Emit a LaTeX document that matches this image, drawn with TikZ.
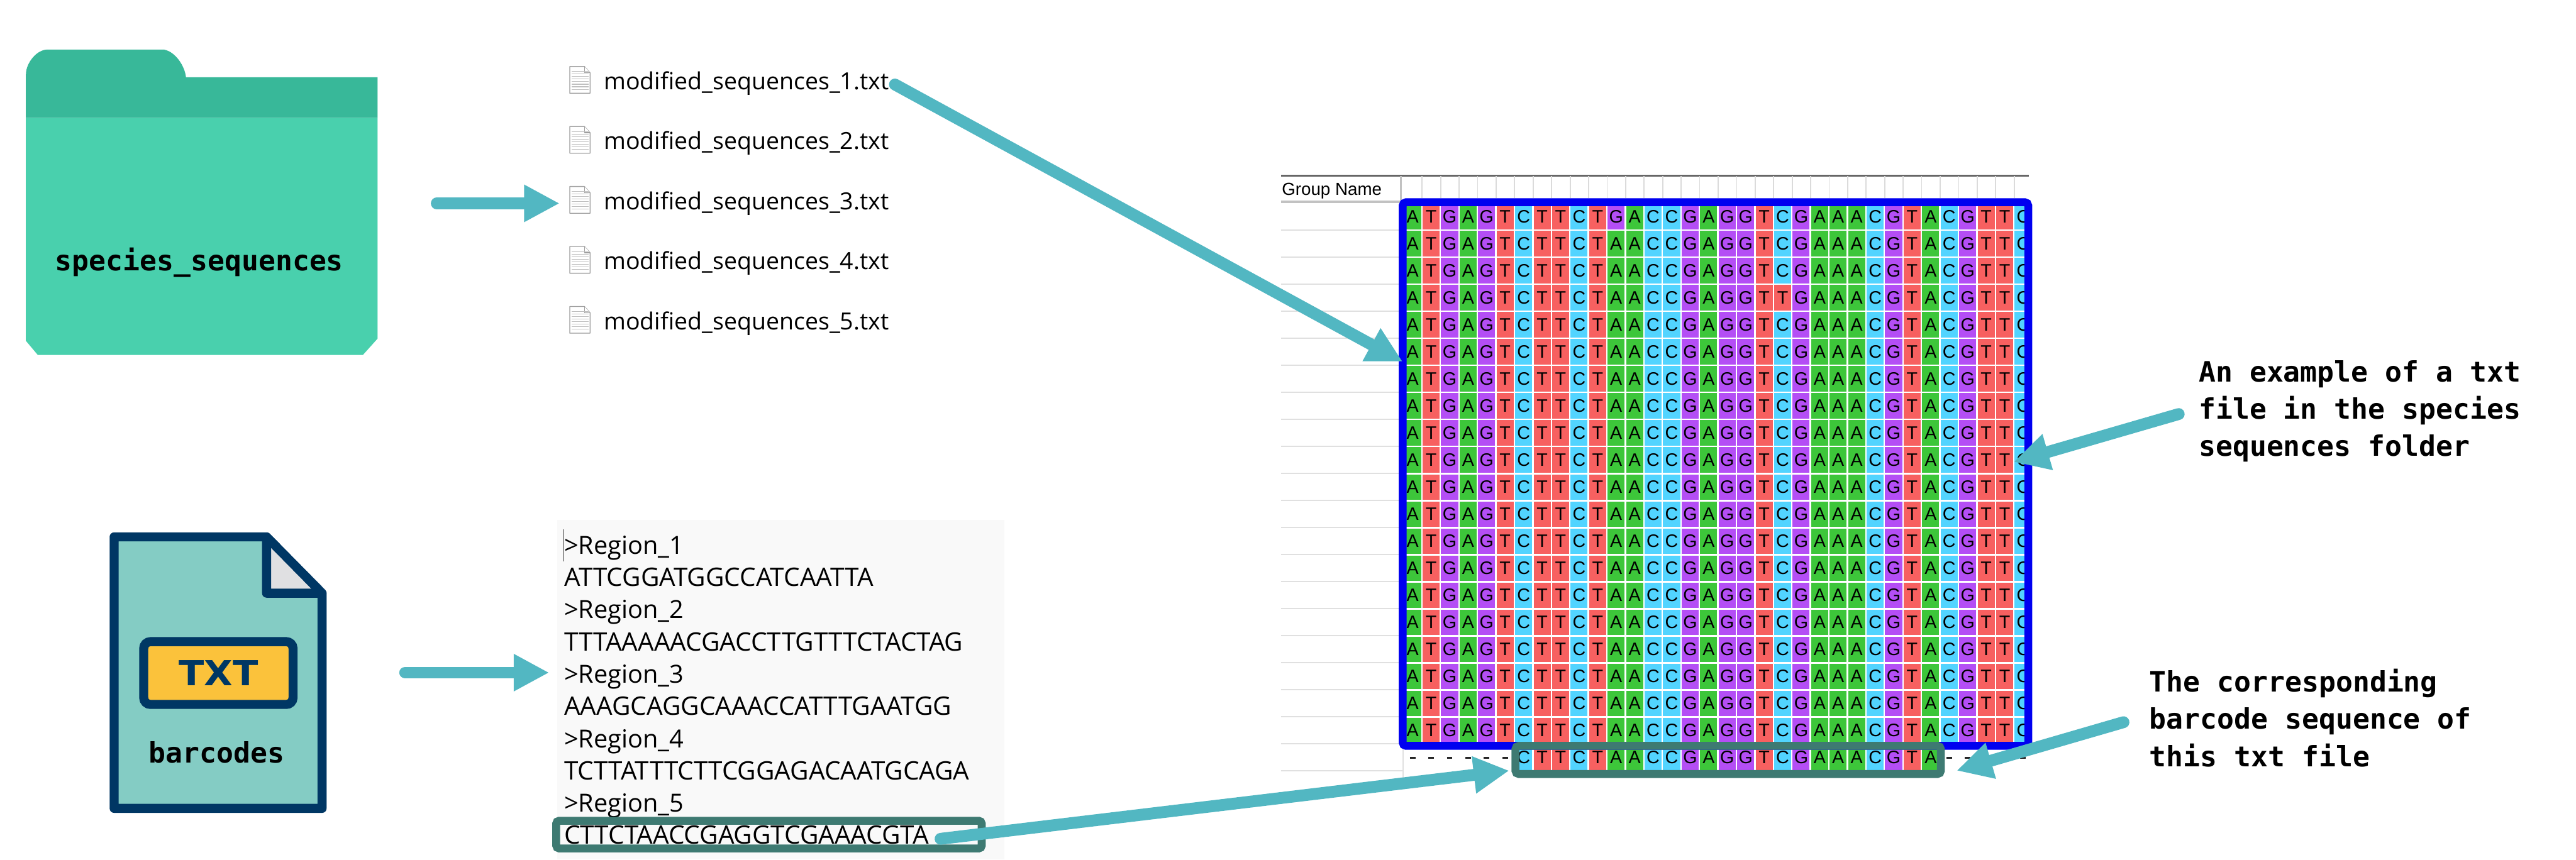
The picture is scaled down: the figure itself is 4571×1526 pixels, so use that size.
\documentclass[tikz,border=0pt]{standalone}
\usepackage{fontspec}
\usetikzlibrary{arrows.meta}
\setmainfont{Open Sans}
\setmonofont{DejaVu Sans Mono}
\newfontfamily\cellfont{Liberation Sans}
\newfontfamily\iconfont[FakeStretch=1.08]{DejaVu Sans}
\definecolor{arrowc}{HTML}{52B7C2}
\definecolor{folderdark}{HTML}{38B899}
\definecolor{folderlight}{HTML}{49D0AD}
\definecolor{navy}{HTML}{003764}
\definecolor{paperfill}{HTML}{84CCC4}
\definecolor{foldfill}{HTML}{E0E0E2}
\definecolor{yellowbox}{HTML}{FBC23B}
\definecolor{panelbg}{HTML}{F9F9F9}
\definecolor{framegreen}{HTML}{3E7A72}
\definecolor{frameblue}{HTML}{0000F0}
\definecolor{baseA}{HTML}{3DC63A}
\definecolor{baseT}{HTML}{F76060}
\definecolor{baseG}{HTML}{B44EF5}
\definecolor{baseC}{HTML}{52D4FF}
\tikzset{
  flow/.style={draw=arrowc,line width=0.21cm,line cap=round,-{Triangle[length=0.63cm,width=0.62cm]}},
  basecell/.style={inner sep=0pt,outer sep=0pt,minimum width=0.302cm,minimum height=0.45cm,font=\cellfont\fontsize{9.1pt}{9.1pt}\selectfont,text=black},
  A/.style={fill=baseA},T/.style={fill=baseT},G/.style={fill=baseG},C/.style={fill=baseC},
  filename/.style={anchor=base west,inner sep=0pt,font=\fontsize{11.9pt}{14pt}\selectfont,text=black},
  panelline/.style={anchor=base west,inner sep=0pt,font=\fontsize{12.6pt}{15pt}\selectfont,text=black},
  panelseq/.style={panelline,font=\fontsize{12.85pt}{15pt}\selectfont},
  monolabel/.style={inner sep=0pt,font=\ttfamily\bfseries\fontsize{14.2pt}{18.8pt}\selectfont,text=black},
  note/.style={monolabel,anchor=north west,align=left},
  rule/.style={draw=black!12,line width=0.02cm},
  tick/.style={draw=black!14,line width=0.02cm},
  pagefile/.style={draw=black!38,line width=0.015cm,fill=white,line join=round},
  pageline/.style={draw=black!25,line width=0.012cm},
  gapdash/.style={draw=black!85,line width=0.03cm},
}
\newcommand\seqrow[3]{\foreach \bb [count=\cc from #3] in #2 {%
  \node[basecell,\bb] (cell-#1-\cc) at ({2506.6+32.83*\cc},{384.5+48*#1}) {\bb};}}
\newcommand\txticon[1]{%
  \begin{scope}[shift={(1011,#1)}]
    \path[pagefile] (0,0) -- (26,0) -- (36,11) -- (36,47.5) -- (0,47.5) -- cycle;
    \path[pagefile] (26,0) -- (26,11) -- (36,11);
    \foreach \yy in {9,13.5,18,22.5,27,31.5,36,40.5} \draw[pageline] (3,\yy) -- (33,\yy);
  \end{scope}}
\begin{document}
\begin{tikzpicture}[x=0.01cm,y=-0.01cm]
\useasboundingbox (0,0) rectangle (4571,1526);
\fill[white] (0,0) rectangle (4571,1526);

% folder
\fill[folderlight] (46,209) -- (670,209) -- (670,601) -- (644,630) -- (67,630) -- (46,605) -- cycle;
\fill[folderdark] (46,209) -- (46,132) .. controls (46,112) and (65,88) .. (84,88) -- (291,88)
  .. controls (312,92) and (328,118) .. (330,137) -- (670,137) -- (670,209) -- cycle;
\node[monolabel,anchor=base] (folderlabel) at (353.7,480.5) {species\_sequences};

% file list
\txticon{118}\txticon{224.5}\txticon{331}\txticon{437.5}\txticon{544}
\node[filename] (file1) at (1071,159.3) {modified\_sequences\_1.txt};
\node[filename] (file2) at (1071,265.5) {modified\_sequences\_2.txt};
\node[filename] (file3) at (1071,372) {modified\_sequences\_3.txt};
\node[filename] (file4) at (1071,478.5) {modified\_sequences\_4.txt};
\node[filename] (file5) at (1071,585) {modified\_sequences\_5.txt};

% txt file icon
\path[fill=paperfill,draw=navy,line width=0.16cm,line join=round]
  (202.5,953) -- (473,953) -- (571.5,1053) -- (571.5,1435) -- (202.5,1435) -- cycle;
\path[fill=foldfill,draw=navy,line width=0.16cm,line join=round]
  (473,953) -- (571.5,1053) -- (473,1053) -- cycle;
\path[fill=yellowbox,draw=navy,line width=0.16cm,rounded corners=0.12cm] (255,1139) rectangle (520,1250.5);
\node[inner sep=0pt,font=\iconfont\bfseries\fontsize{17.4pt}{17.4pt}\selectfont,text=navy,anchor=base] (txtlabel) at (388,1217) {TXT};
\node[monolabel,anchor=base] (barcodelabel) at (384.5,1354.6) {barcodes};

% region panel
\fill[panelbg] (988.5,923) rectangle (1782,1526);
\draw[black!80,line width=0.012cm] (1000.5,940) -- (1000.5,996);
\node[panelline] (r1) at (1000.5,984) {>Region\_1};
\node[panelseq] (s1) at (1000.5,1041) {ATTCGGATGGCCATCAATTA};
\node[panelline] (r2) at (1000.5,1098) {>Region\_2};
\node[panelseq] (s2) at (1000.5,1155.5) {TTTAAAAACGACCTTGTTTCTACTAG};
\node[panelline] (r3) at (1000.5,1212.5) {>Region\_3};
\node[panelseq] (s3) at (1000.5,1269.5) {AAAGCAGGCAAACCATTTGAATGG};
\node[panelline] (r4) at (1000.5,1327) {>Region\_4};
\node[panelseq] (s4) at (1000.5,1384) {TCTTATTTCTTCGGAGACAATGCAGA};
\node[panelline] (r5) at (1000.5,1441) {>Region\_5};
\node[panelseq] (s5) at (1000.5,1497.6) {CTTCTAACCGAGGTCGAAACGTA};
\draw[framegreen,line width=0.14cm,rounded corners=0.05cm] (987,1457) rectangle (1742,1506);

% alignment header and row rules
\draw[black!60,line width=0.025cm] (2273,312) -- (3600,312);
\node[inner sep=0pt,anchor=base west,font=\cellfont\fontsize{8.8pt}{9pt}\selectfont] (groupname) at (2274,346) {Group Name};
\foreach \k in {0,...,32} \draw[tick] ({2523.5+32.83*\k},313) -- ({2523.5+32.83*\k},352);
\draw[black!24,line width=0.04cm] (2486,313) -- (2486,355);
\draw[black!24,line width=0.05cm] (2273,358) -- (2484,358);
\foreach \k in {0,...,20} \draw[rule] (2273,{408+48*\k}) -- (2490,{408+48*\k});
\draw[rule] (2490,360) -- (2490,1390);

% gap dashes in barcode row
\foreach \k in {0,...,5,29,30,31,32,33}
  \draw[gapdash] ({2501.6+32.83*\k},1345) -- ({2511.6+32.83*\k},1345);

% alignment cells
\def\seqA{A,T,G,A,G,T,C,T,T,C,T,A,A,C,C,G,A,G,G,T,C,G,A,A,A,C,G,T,A,C,G,T,T,C}
\def\seqFirst{A,T,G,A,G,T,C,T,T,C,T,G,A,C,C,G,A,G,G,T,C,G,A,A,A,C,G,T,A,C,G,T,T,C}
\def\seqMut{A,T,G,A,G,T,C,T,T,C,T,A,A,C,C,G,A,G,G,T,T,G,A,A,A,C,G,T,A,C,G,T,T,C}
\def\seqBar{C,T,T,C,T,A,A,C,C,G,A,G,G,T,C,G,A,A,A,C,G,T,A}
\seqrow{0}{\seqFirst}{0}
\seqrow{1}{\seqA}{0}
\seqrow{2}{\seqA}{0}
\seqrow{3}{\seqMut}{0}
\foreach \rr in {4,...,19} {\seqrow{\rr}{\seqA}{0}}
\seqrow{20}{\seqBar}{6}

% frames
\draw[frameblue,line width=0.14cm,rounded corners=0.06cm] (2489,359) rectangle (3599,1324);
\draw[framegreen,line width=0.14cm,rounded corners=0.06cm] (2689,1324) rectangle (3444,1374);

% notes
\node[note] (note1) at (3901,639) {An example of a txt\\file in the species\\sequences folder};
\node[note] (note2) at (3813.5,1187) {The corresponding\\barcode sequence of\\this txt file};

% connectors
\coordinate (a1s) at (775,361);   \coordinate (a1e) at (993,361);
\coordinate (a2s) at (719,1194);  \coordinate (a2e) at (974.5,1194);
\coordinate (a3s) at (1588,150);  \coordinate (a3e) at (2489,642);
\coordinate (a4s) at (1669,1489); \coordinate (a4e) at (2678,1368);
\coordinate (a5s) at (3866,735);  \coordinate (a5e) at (3573,820);
\coordinate (a6s) at (3768,1282); \coordinate (a6e) at (3472,1368);
\draw[flow] (a1s) -- (a1e);
\draw[flow] (a2s) -- (a2e);
\draw[flow] (a3s) -- (a3e);
\draw[flow] (a4s) -- (a4e);
\draw[flow] (a5s) -- (a5e);
\draw[flow] (a6s) -- (a6e);
\end{tikzpicture}
\end{document}
